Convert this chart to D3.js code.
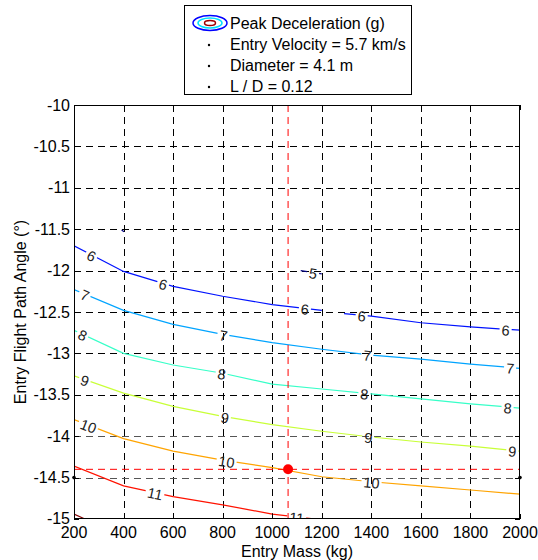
<!DOCTYPE html>
<html><head><meta charset="utf-8">
<script src="https://cdn.jsdelivr.net/npm/d3@7"></script>
<style>body{margin:0;background:#fff} text{font-family:"Liberation Sans",Arial,sans-serif}</style>
</head><body><svg id="c" width="538" height="560"></svg>
<script>
// ---- data ----
const massTicks=[200,400,600,800,1000,1200,1400,1600,1800,2000];
const angleTicks=[-10,-10.5,-11,-11.5,-12,-12.5,-13,-13.5,-14,-14.5,-15];
const angleTickLabels=["-10","-10.5","-11","-11.5","-12","-12.5","-13","-13.5","-14","-14.5","-15"];
const massGrid=[200,400,600,800,1000,1200,1400,1600,1800,2000];
const contourLevels=[5,6,7,8,9,10,11,12];
const levelColors=["#000080","#0012ff","#00a4ff","#37ffc8","#c8ff37","#ffa400","#ff1200","#800000"];
// contour vertices (entry mass kg, entry flight path angle deg)
const mass5a=[1115,1200], angle5a=[-12.00,-12.04];
const mass5b=[392,402], angle5b=[-11.51,-11.53];
const mass6a=[200,400,600,800,1000,1200], angle6a=[-11.70,-12.01,-12.19,-12.31,-12.41,-12.48];
const mass6b=[1290,1400,1600,1800,2000], angle6b=[-12.52,-12.55,-12.63,-12.68,-12.72];
const angle7=[-12.23,-12.48,-12.65,-12.77,-12.87,-12.95,-13.02,-13.07,-13.13,-13.18];
const angle8=[-12.72,-13.00,-13.14,-13.24,-13.37,-13.43,-13.49,-13.55,-13.61,-13.66];
const angle9=[-13.27,-13.48,-13.64,-13.76,-13.86,-13.94,-14.01,-14.07,-14.12,-14.18];
const angle10=[-13.80,-14.03,-14.18,-14.29,-14.38,-14.49,-14.55,-14.60,-14.65,-14.70];
const mass11=[200,400,600,800,1000,1200], angle11=[-14.36,-14.60,-14.73,-14.83,-14.94,-15.01];
const mass12=[200,244], angle12=[-14.94,-15.00];
// contour label positions (mass)
const labels5=[1165], labels6a=[271,560,1132], labels6b=[1361,1942];
const labels7=[244,803,1384,1960], labels8=[235,796,1372,1950];
const labels9=[244,809,1388,1969], labels10=[258,816,1401], labels11=[527,1099];
// design point
const pointMass=1064, pointAngle=-14.40;
const legendLines=["Peak Deceleration (g)","Entry Velocity = 5.7 km/s","Diameter = 4.1 m","L / D = 0.12"];

// ---- build ----
const segments=[
 {level:5,mass:mass5a,angle:angle5a,labels:labels5},
 {level:5,mass:mass5b,angle:angle5b,labels:[]},
 {level:6,mass:mass6a,angle:angle6a,labels:labels6a},
 {level:6,mass:mass6b,angle:angle6b,labels:labels6b},
 {level:7,mass:massGrid,angle:angle7,labels:labels7},
 {level:8,mass:massGrid,angle:angle8,labels:labels8},
 {level:9,mass:massGrid,angle:angle9,labels:labels9},
 {level:10,mass:massGrid,angle:angle10,labels:labels10},
 {level:11,mass:mass11,angle:angle11,labels:labels11},
 {level:12,mass:mass12,angle:angle12,labels:[]}
];
const color=d3.scaleOrdinal().domain(contourLevels).range(levelColors);

const L=74,R=520,T=105,B=519;
const x=d3.scaleLinear().domain([200,2000]).range([L,R]);
const y=d3.scaleLinear().domain([-10,-15]).range([T,B]);
const svg=d3.select("#c");
const defs=svg.append("defs");
defs.append("clipPath").attr("id","clip").append("rect").attr("x",L).attr("y",T).attr("width",R-L).attr("height",B-T);
const mask=defs.append("mask").attr("id","lblmask").attr("maskUnits","userSpaceOnUse")
  .attr("x",0).attr("y",0).attr("width",538).attr("height",560);
mask.append("rect").attr("x",0).attr("y",0).attr("width",538).attr("height",560).attr("fill","#fff");

// grid
const grid=svg.append("g").attr("shape-rendering","crispEdges");
grid.selectAll("line.v").data(massTicks.slice(1,-1)).join("line")
  .attr("x1",d=>Math.round(x(d))+0.5).attr("x2",d=>Math.round(x(d))+0.5).attr("y1",T).attr("y2",B)
  .attr("stroke","#000").attr("stroke-dasharray","7,5");
grid.selectAll("line.h").data(angleTicks.slice(1,-1)).join("line")
  .attr("y1",d=>Math.round(y(d))+0.5).attr("y2",d=>Math.round(y(d))+0.5).attr("x1",L).attr("x2",R)
  .attr("stroke",d=>(d<=-14)?"#555":"#000").attr("stroke-width",d=>(d<=-14)?1.8:1)
  .attr("stroke-dasharray","7,5");

// contours
const plot=svg.append("g").attr("clip-path","url(#clip)");
const lineGen=d3.line().x(d=>x(d[0])).y(d=>y(d[1]));
const cg=plot.append("g").attr("mask","url(#lblmask)");
segments.forEach(s=>{
  const pts=s.mass.map((m,i)=>[m,s.angle[i]]);
  cg.append("path").attr("d",lineGen(pts)).attr("fill","none")
    .attr("stroke",color(s.level)).attr("stroke-width",1.2);
});

// red design point lines
plot.append("line").attr("x1",x(pointMass)).attr("x2",x(pointMass)).attr("y1",T).attr("y2",B)
  .attr("stroke","#ff0000").attr("stroke-dasharray","7,5");
plot.append("line").attr("x1",L).attr("x2",R).attr("y1",y(pointAngle)).attr("y2",y(pointAngle))
  .attr("stroke","#ff0000").attr("stroke-dasharray","7,5");

// labels
const lg=plot.append("g");
segments.forEach(s=>{
  const interp=d3.scaleLinear().domain(s.mass).range(s.angle);
  s.labels.forEach(m=>{
    const px=x(m), py=y(interp(m));
    const p1=[x(m-20),y(interp(m-20))], p2=[x(m+20),y(interp(m+20))];
    const ang=Math.atan2(p2[1]-p1[1],p2[0]-p1[0])*180/Math.PI;
    const t=lg.append("text").attr("transform",`translate(${px},${py+1}) rotate(${ang})`)
      .attr("text-anchor","middle").attr("dy","0.36em").attr("font-size",14.5).attr("fill","#222")
      .text(s.level);
    const w=t.node().getComputedTextLength()+4;
    mask.append("rect").attr("x",-w/2).attr("y",-6).attr("width",w).attr("height",12)
      .attr("transform",`translate(${px},${py}) rotate(${ang})`).attr("fill","#000");
  });
});

// point
svg.append("circle").attr("cx",x(pointMass)).attr("cy",y(pointAngle)).attr("r",5).attr("fill","#ff0000");
svg.selectAll("circle.bd").data([200,2000]).join("circle").attr("cx",d=>x(d)).attr("cy",y(-14.5)).attr("r",1.8).attr("fill","#000");

// frame & axes
svg.append("rect").attr("x",L+0.5).attr("y",T+0.5).attr("width",R-L-1).attr("height",B-T-1)
  .attr("fill","none").attr("stroke","#000").attr("shape-rendering","crispEdges");
const ax=svg.append("g").attr("shape-rendering","crispEdges").attr("stroke","#000");
massTicks.forEach(m=>{
  const xx=Math.round(x(m))+0.5;
  ax.append("line").attr("x1",xx).attr("x2",xx).attr("y1",B).attr("y2",B-5);
  ax.append("line").attr("x1",xx).attr("x2",xx).attr("y1",T).attr("y2",T+5);
});
angleTicks.forEach(a=>{
  const yy=Math.round(y(a))+0.5;
  ax.append("line").attr("y1",yy).attr("y2",yy).attr("x1",L).attr("x2",L+5);
  ax.append("line").attr("y1",yy).attr("y2",yy).attr("x1",R).attr("x2",R-5);
});
svg.append("g").selectAll("text").data(massTicks).join("text")
  .attr("x",d=>x(d)).attr("y",532).attr("dy","0.35em").attr("text-anchor","middle")
  .attr("font-size",16).text(d=>d);
svg.append("g").selectAll("text").data(angleTicks).join("text")
  .attr("x",70).attr("y",(d,i)=>y(d)-(i===angleTicks.length-1?1:0)).attr("dy","0.35em").attr("text-anchor","end")
  .attr("font-size",16).text((d,i)=>angleTickLabels[i]);
svg.append("text").attr("x",(L+R)/2).attr("y",551).attr("dy","0.35em").attr("text-anchor","middle")
  .attr("font-size",16).text("Entry Mass (kg)");
svg.append("text").attr("transform",`translate(20,${(T+B)/2}) rotate(-90)`).attr("dy","0.35em")
  .attr("text-anchor","middle").attr("font-size",16).text("Entry Flight Path Angle (°)");

// legend
const leg=svg.append("g");
leg.append("rect").attr("x",184.5).attr("y",5.5).attr("width",227).attr("height",89)
  .attr("fill","#fff").attr("stroke","#000").attr("shape-rendering","crispEdges");
leg.append("ellipse").attr("cx",210).attr("cy",23).attr("rx",17).attr("ry",7.5).attr("fill","none").attr("stroke","#0000ff").attr("stroke-width",1.5);
leg.append("ellipse").attr("cx",210).attr("cy",23).attr("rx",12).attr("ry",5).attr("fill","none").attr("stroke","#00e0ff").attr("stroke-width",1.5);
leg.append("ellipse").attr("cx",210).attr("cy",23).attr("rx",5.5).attr("ry",2.5).attr("fill","none").attr("stroke","#a00000").attr("stroke-width",1.5);
legendLines.forEach((s,i)=>{
  const yy=23+i*21;
  leg.append("text").attr("x",230).attr("y",yy).attr("dy","0.35em").attr("font-size",16).text(s);
  if(i>0) leg.append("circle").attr("cx",209).attr("cy",yy+1).attr("r",1.2).attr("fill","#000");
});
</script></body></html>
